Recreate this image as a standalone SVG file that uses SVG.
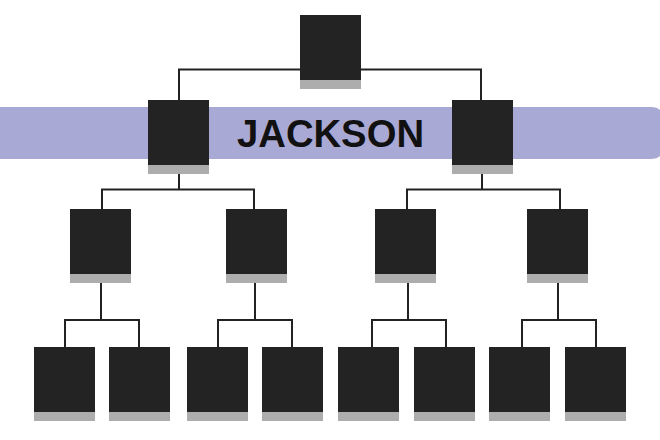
<svg xmlns="http://www.w3.org/2000/svg" width="660" height="440" viewBox="0 0 660 440">
<style>
.d{fill:#232323}
.g{fill:#adadad}
.c{fill:none;stroke:#222;stroke-width:2}
.t{font-family:"Liberation Sans",Arial,sans-serif;font-weight:bold;font-size:39px;fill:#111}
</style>
<defs>
<g id="box"><rect class="d" x="0" y="0" width="61" height="65"/><rect class="g" x="0" y="65" width="61" height="9"/></g>
</defs>
<rect width="660" height="440" fill="#fff"/>
<path d="M0 107 H651 Q663 107 663 119 V147 Q663 159 651 159 H0 Z" fill="#a9a9d6"/>
<g id="connectors">
<path class="c" d="M179 100 V69.5 H481 V100"/>
<path class="c" d="M179 174 V189.5 M102 209 V189.5 H254 V209"/>
<path class="c" d="M482 174 V189.5 M407 209 V189.5 H560 V209"/>
<path class="c" d="M101 283 V320 M65 347 V320 H139 V347"/>
<path class="c" d="M255 283 V320 M218 347 V320 H292 V347"/>
<path class="c" d="M408 283 V320 M372 347 V320 H446 V347"/>
<path class="c" d="M558 283 V320 M522 347 V320 H596 V347"/>
</g>
<g id="n0"><use href="#box" x="300" y="15"/></g>
<g id="n1"><use href="#box" x="148" y="100"/></g>
<g id="n2"><use href="#box" x="452" y="100"/></g>
<g id="n3"><use href="#box" x="70" y="209"/></g>
<g id="n4"><use href="#box" x="226" y="209"/></g>
<g id="n5"><use href="#box" x="375" y="209"/></g>
<g id="n6"><use href="#box" x="527" y="209"/></g>
<g id="n7"><use href="#box" x="34" y="347"/></g>
<g id="n8"><use href="#box" x="109" y="347"/></g>
<g id="n9"><use href="#box" x="187" y="347"/></g>
<g id="n10"><use href="#box" x="262" y="347"/></g>
<g id="n11"><use href="#box" x="338" y="347"/></g>
<g id="n12"><use href="#box" x="414" y="347"/></g>
<g id="n13"><use href="#box" x="489" y="347"/></g>
<g id="n14"><use href="#box" x="565" y="347"/></g>
<g id="label"><text class="t" x="330.5" y="147" text-anchor="middle" textLength="187" lengthAdjust="spacingAndGlyphs">JACKSON</text></g>
</svg>
